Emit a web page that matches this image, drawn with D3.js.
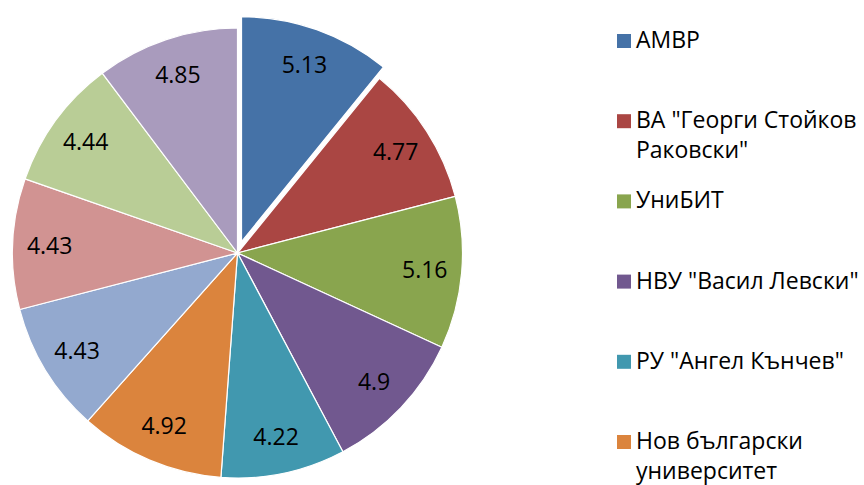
<!DOCTYPE html>
<html>
<head>
<meta charset="utf-8">
<script src="https://cdn.jsdelivr.net/npm/d3@7"></script>
<style>
  html, body { margin: 0; padding: 0; background: #ffffff; }
  svg { display: block; }
</style>
</head>
<body>
<svg id="chart" width="864" height="485"></svg>
<script>
// ---- data ----
const categories = [
  'АМВР',
  'ВА "Георги Стойков Раковски"',
  'УниБИТ',
  'НВУ "Васил Левски"',
  'РУ "Ангел Кънчев"',
  'Нов български университет',
  'Категория 7',
  'Категория 8',
  'Категория 9',
  'Категория 10'
];
const values = [5.13, 4.77, 5.16, 4.9, 4.22, 4.92, 4.43, 4.43, 4.44, 4.85];
const valueLabels = ['5.13', '4.77', '5.16', '4.9', '4.22', '4.92', '4.43', '4.43', '4.44', '4.85'];
const colors = ['#4572A7', '#AA4643', '#89A54E', '#71588F', '#4198AF', '#DB843D',
                '#93A9CF', '#D19392', '#B9CD96', '#A99BBD'];
const explodedIndex = [0];

// ---- layout ----
const W = 864, H = 485;
const svg = d3.select('#chart');
const cx = 237.5, cy = 253, R = 225, labelR = 188, explode = 12;
const FONT = '"Open Sans", "Noto Sans", sans-serif';

const pie = d3.pie().sort(null).value(d => d.v);
const data = values.map((v, i) => ({ v, i }));
const arcs = pie(data);
const arc = d3.arc().innerRadius(0).outerRadius(R);

const g = svg.append('g').attr('transform', `translate(${cx},${cy})`);

const slice = g.selectAll('g.slice').data(arcs).join('g')
  .attr('class', 'slice')
  .attr('transform', d => {
    if (!explodedIndex.includes(d.index)) return null;
    const m = (d.startAngle + d.endAngle) / 2;
    return `translate(${explode * Math.sin(m)},${-explode * Math.cos(m)})`;
  });

slice.append('path')
  .attr('d', arc)
  .attr('fill', d => colors[d.index])
  .attr('stroke', '#ffffff')
  .attr('stroke-width', 1.2)
  .attr('stroke-linejoin', 'round');

slice.append('text')
  .attr('x', d => labelR * Math.sin((d.startAngle + d.endAngle) / 2))
  .attr('y', d => -labelR * Math.cos((d.startAngle + d.endAngle) / 2))
  .attr('text-anchor', 'middle')
  .attr('dy', '0.36em')
  .attr('font-family', FONT)
  .attr('font-size', 23)
  .attr('fill', '#000000')
  .text(d => valueLabels[d.index]);

// ---- legend ----
const legendX = 617, textX = 636, firstBaseline = 48, step = 80.2, lineH = 29.5, maxW = 234;
const legendFont = 23;
const legend = svg.append('g');

function wrapLines(str, fontSize) {
  const tmp = svg.append('text').attr('font-family', FONT).attr('font-size', fontSize);
  const words = str.split(' ');
  const lines = [];
  let cur = '';
  words.forEach(w => {
    const test = cur ? cur + ' ' + w : w;
    tmp.text(test);
    if (tmp.node().getComputedTextLength() > maxW && cur) {
      lines.push(cur);
      cur = w;
    } else cur = test;
  });
  if (cur) lines.push(cur);
  tmp.remove();
  return lines;
}

categories.forEach((name, i) => {
  const base = firstBaseline + i * step;
  if (base - 14 > H) return; // entries below the visible area are not drawn
  const item = legend.append('g');
  item.append('rect')
    .attr('x', legendX).attr('y', base - 14)
    .attr('width', 14).attr('height', 14)
    .attr('fill', colors[i]);
  const lines = wrapLines(name, legendFont);
  const t = item.append('text')
    .attr('font-family', FONT)
    .attr('font-size', legendFont)
    .attr('fill', '#000000');
  lines.forEach((ln, k) => {
    t.append('tspan').attr('x', textX).attr('y', base + k * lineH).text(ln);
  });
});
</script>
</body>
</html>
